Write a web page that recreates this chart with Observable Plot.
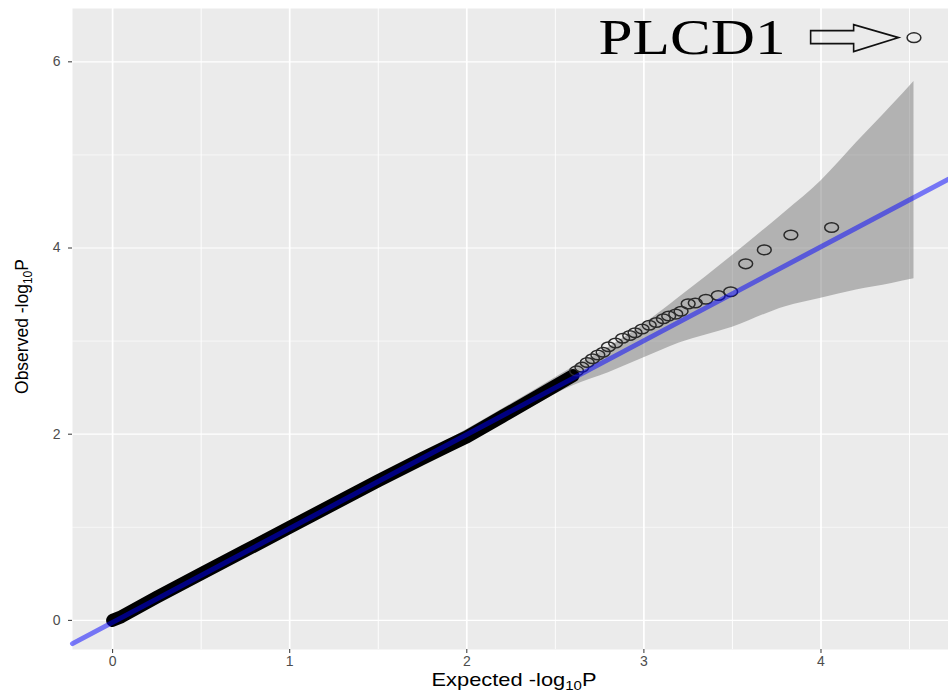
<!DOCTYPE html>
<html><head><meta charset="utf-8">
<script src="https://cdn.jsdelivr.net/npm/d3@7"></script>
<script src="https://cdn.jsdelivr.net/npm/@observablehq/plot@0.6"></script>
<style>html,body{margin:0;padding:0;background:#fff;} svg{display:block}</style>
</head><body><div id="chart"></div>
<script>
// ---- axes ----
const xTicks = [0, 1, 2, 3, 4];
const yTicks = [0, 2, 4, 6];
const xMinor = [0.5, 1.5, 2.5, 3.5, 4.5];
const yMinor = [1, 3, 5];
const xDomain = [-0.2265, 4.72];
const yDomain = [-0.313, 6.573];
const xTitle = ["Expected -log", "10", "P"];
const yTitle = ["Observed -log", "10", "P"];

// ---- dense bulk of points (expected, observed), read along the black band ----
const bulkExpected = [0, 0.05, 0.25, 0.5, 0.75, 1.0, 1.25, 1.5, 1.75, 1.9, 2.0, 2.2, 2.4, 2.5, 2.6];
const bulkObserved = [0, 0.04, 0.25, 0.5, 0.75, 1.0, 1.25, 1.5, 1.74, 1.88, 1.97, 2.19, 2.41, 2.52, 2.63];

// ---- individually visible tail points ----
const tailExpected = [4.525, 4.06, 3.83, 3.68, 3.575, 3.49, 3.42, 3.35, 3.29, 3.25, 3.21, 3.18, 3.14, 3.11, 3.07, 3.03, 2.99, 2.95, 2.92, 2.88, 2.84, 2.80, 2.77, 2.74, 2.71, 2.68, 2.65, 2.62];
const tailObserved = [6.26, 4.22, 4.14, 3.98, 3.83, 3.53, 3.49, 3.45, 3.41, 3.40, 3.32, 3.29, 3.27, 3.24, 3.20, 3.17, 3.13, 3.09, 3.06, 3.03, 2.98, 2.94, 2.88, 2.85, 2.81, 2.77, 2.72, 2.68];

// ---- confidence ribbon ----
const bandExpected = [0, 1.0, 2.0, 2.3, 2.6, 2.8, 3.0, 3.2, 3.5, 3.8, 4.0, 4.2, 4.4, 4.525];
const bandUpper    = [0.03, 1.03, 2.05, 2.38, 2.72, 2.93, 3.18, 3.47, 3.92, 4.39, 4.72, 5.13, 5.53, 5.79];
const bandLower    = [-0.03, 0.97, 1.94, 2.22, 2.52, 2.66, 2.82, 2.98, 3.15, 3.37, 3.46, 3.55, 3.62, 3.67];

// ---- fitted line (ends read at panel edges) ----
const fitExpected = [-0.2265, 4.72];
const fitObserved = [-0.25, 4.74];

// ---- annotation ----
const annoLabel = ["PLCD1"];
const annoLabelX = [3.80];
const annoArrowX = [4.19];
const annoY = [6.26];

// build tables
const bulk = bulkExpected.map((x, i) => ({x, y: bulkObserved[i]}));
const tail = tailExpected.map((x, i) => ({x, y: tailObserved[i]}));
const band = bandExpected.map((x, i) => ({x, lo: bandLower[i], hi: bandUpper[i]}));
const fit = fitExpected.map((x, i) => ({x, y: fitObserved[i]}));
const anno = annoLabel.map((label, i) => ({label, lx: annoLabelX[i], ax: annoArrowX[i], y: annoY[i]}));

// ellipse symbol (picture is horizontally stretched)
const ellipse = {
  draw(ctx) {
    const a = 6.9, b = 4.8, k = 0.5523;
    ctx.moveTo(a, 0);
    ctx.bezierCurveTo(a, b * k, a * k, b, 0, b);
    ctx.bezierCurveTo(-a * k, b, -a, b * k, -a, 0);
    ctx.bezierCurveTo(-a, -b * k, -a * k, -b, 0, -b);
    ctx.bezierCurveTo(a * k, -b, a, -b * k, a, 0);
    ctx.closePath();
  }
};
// block arrow symbol
const blockArrow = {
  draw(ctx) {
    ctx.moveTo(-44, -7);
    ctx.lineTo(-1, -7);
    ctx.lineTo(-1, -13);
    ctx.lineTo(44, 0);
    ctx.lineTo(-1, 14);
    ctx.lineTo(-1, 6);
    ctx.lineTo(-44, 6);
    ctx.closePath();
  }
};

const fmt = d => String(d);

const plot = Plot.plot({
  width: 948,
  height: 694,
  marginLeft: 72,
  marginRight: 0,
  marginTop: 8,
  marginBottom: 45,
  x: {domain: xDomain, label: null},
  y: {domain: yDomain, label: null},
  style: {fontFamily: "'Liberation Sans', Arial, sans-serif", fontSize: "14px", background: "white", color: "#4d4d4d"},
  marks: [
    Plot.frame({fill: "#ebebeb", stroke: "none"}),
    Plot.ruleX(xMinor, {stroke: "white", strokeWidth: 0.9}),
    Plot.ruleY(yMinor, {stroke: "white", strokeWidth: 0.6}),
    Plot.ruleX(xTicks, {stroke: "white", strokeWidth: 1.7}),
    Plot.ruleY(yTicks, {stroke: "white", strokeWidth: 1.2}),
    Plot.axisX(xTicks, {tickSize: 4, tickPadding: 3, tickFormat: fmt, label: null, stroke: "#333", fill: "#4d4d4d"}),
    Plot.axisY(yTicks, {tickSize: 4, tickPadding: 8, tickFormat: fmt, label: null, stroke: "#333", fill: "#4d4d4d"}),
    Plot.areaY(band, {x: "x", y1: "lo", y2: "hi", fill: "#7a7a7a", fillOpacity: 0.5, curve: "monotone-x"}),
    Plot.line(bulk, {x: "x", y: "y", stroke: "black", strokeWidth: 13, strokeLinecap: "round", strokeLinejoin: "round"}),
    Plot.dot(tail, {x: "x", y: "y", symbol: ellipse, r: 6, stroke: "#2a2a2a", strokeWidth: 1.5, fill: "none"}),
    Plot.line(fit, {x: "x", y: "y", stroke: "blue", strokeOpacity: 0.5, strokeWidth: 5}),
    Plot.dot(anno, {x: "ax", y: "y", symbol: blockArrow, r: 10, stroke: "#111", strokeWidth: 1.6, fill: "none"}),
    Plot.text(anno, {x: "lx", y: "y", text: "label", textAnchor: "end", fontFamily: "'Liberation Serif', 'Times New Roman', serif", fontSize: 50, fill: "black"})
  ]
});

document.getElementById("chart").appendChild(plot);

const svg = d3.select(plot);
// stretch the annotation label as in the picture
svg.selectAll("text").filter(function () { return this.textContent === "PLCD1"; })
  .attr("textLength", 187).attr("lengthAdjust", "spacingAndGlyphs");

// axis titles with subscripts
const xr = plot.scale("x").range, yr = plot.scale("y").range;
const cx = (xr[0] + xr[1]) / 2 + 4;
const cy = (yr[0] + yr[1]) / 2 - 2;
function title(parts, transform) {
  const t = svg.append("text").attr("transform", transform).attr("text-anchor", "middle")
    .attr("font-family", "'Liberation Sans', Arial, sans-serif").attr("font-size", 17.5).attr("fill", "black");
  t.append("tspan").text(parts[0]);
  t.append("tspan").attr("font-size", 12).attr("dy", 4).text(parts[1]);
  t.append("tspan").attr("dy", -4).text(parts[2]);
}
title(xTitle, `translate(${cx},686) scale(1.25,1)`);
title(yTitle, `translate(28,${cy}) rotate(-90)`);
</script>
</body></html>
